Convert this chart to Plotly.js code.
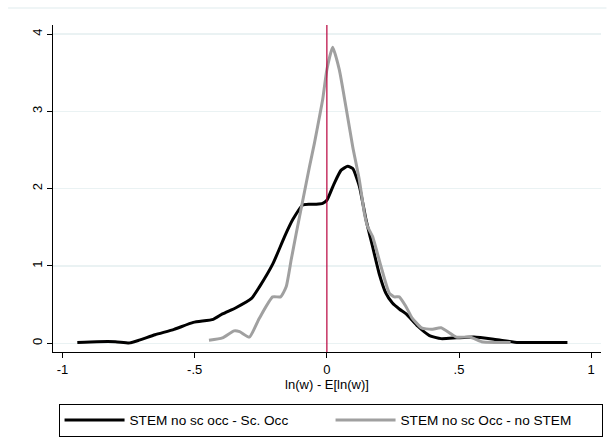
<!DOCTYPE html>
<html>
<head>
<meta charset="utf-8">
<script src="https://cdn.plot.ly/plotly-3.0.1.min.js"></script>
<style>html,body{margin:0;padding:0;background:#fff;}#chart{width:608px;height:444px;}</style>
</head>
<body>
<div id="chart"></div>
<script>
// Series 1: STEM no sc occ - Sc. Occ
const xScOcc = [-0.944,-0.87,-0.80,-0.746,-0.71,-0.65,-0.578,-0.505,-0.43,-0.395,-0.344,-0.285,-0.255,-0.204,-0.16,-0.129,-0.091,-0.066,-0.04,-0.016,0.0,0.028,0.054,0.079,0.098,0.123,0.148,0.173,0.198,0.223,0.248,0.275,0.30,0.344,0.388,0.432,0.49,0.556,0.636,0.724,0.812,0.91];
const yScOcc = [0.01,0.02,0.02,0.005,0.04,0.11,0.18,0.27,0.31,0.38,0.46,0.58,0.73,1.03,1.38,1.60,1.79,1.80,1.80,1.81,1.85,2.07,2.24,2.29,2.26,2.03,1.60,1.25,0.90,0.65,0.52,0.44,0.38,0.22,0.10,0.06,0.07,0.08,0.05,0.01,0.01,0.01];
// Series 2: STEM no sc Occ - no STEM
const xNoStem = [-0.446,-0.395,-0.351,-0.33,-0.293,-0.256,-0.205,-0.175,-0.154,-0.135,-0.116,-0.091,-0.066,-0.047,-0.028,-0.016,0.0,0.022,0.047,0.072,0.098,0.123,0.142,0.154,0.173,0.205,0.236,0.255,0.274,0.30,0.322,0.358,0.395,0.432,0.49,0.541,0.585,0.636,0.695];
const yNoStem = [0.04,0.07,0.16,0.15,0.08,0.32,0.60,0.60,0.73,1.08,1.42,1.85,2.28,2.59,2.93,3.15,3.54,3.83,3.54,3.06,2.54,2.11,1.68,1.51,1.38,0.99,0.65,0.60,0.60,0.47,0.33,0.20,0.18,0.20,0.08,0.08,0.02,0.01,0.01];
const seriesNames = ["STEM no sc occ - Sc. Occ", "STEM no sc Occ - no STEM"];
const xTickVals = [-1,-0.5,0,0.5,1];
const xTickText = ["-1","-.5","0",".5","1"];
const yTickVals = [0,1,2,3,4];
const yTickText = ["0","1","2","3","4"];
const refLineX = 0;

const font = {family: "Arial, 'Liberation Sans', sans-serif", size: 13, color: "#000"};
const legendFont = {family: "Arial, 'Liberation Sans', sans-serif", size: 13.6, color: "#000"};

const traces = [
  {x: xScOcc, y: yScOcc, name: seriesNames[0], mode: "lines", line: {color: "#000000", width: 3, shape: "spline", smoothing: 0.5}},
  {x: xNoStem, y: yNoStem, name: seriesNames[1], mode: "lines", line: {color: "#a0a0a0", width: 3, shape: "spline", smoothing: 0.5}}
];

const layout = {
  width: 608, height: 444,
  margin: {l: 53, r: 6, t: 25, b: 92},
  paper_bgcolor: "#fff", plot_bgcolor: "#fff",
  font: font,
  showlegend: true,
  legend: {
    orientation: "h", x: 1.001, xanchor: "right", y: -0.158, yanchor: "top",
    bordercolor: "#000", borderwidth: 1, bgcolor: "#fff",
    itemwidth: 60, entrywidth: 196, font: legendFont, traceorder: "normal"
  },
  xaxis: {
    range: [-1.036, 1.037], tickvals: xTickVals, ticktext: xTickText,
    showgrid: false, zeroline: false, showline: true, linecolor: "#000", linewidth: 1,
    ticks: "outside", ticklen: 5, tickcolor: "#000", tickfont: font,
    title: {text: "ln(w) - E[ln(w)]", font: font, standoff: 0}
  },
  yaxis: {
    range: [-0.113, 4.118], tickvals: yTickVals, ticktext: yTickText, tickangle: -90,
    showgrid: true, gridcolor: "#eaf2f3", gridwidth: 1.5, zeroline: false,
    showline: true, linecolor: "#000", linewidth: 1,
    ticks: "outside", ticklen: 5, tickcolor: "#000", tickfont: font
  },
  shapes: [
    {type: "line", xref: "x", yref: "paper", x0: refLineX, x1: refLineX, y0: 0, y1: 1, line: {color: "#b8003c", width: 1.2}},
    {type: "line", xref: "paper", yref: "paper", x0: -0.082, x1: 1.01, y0: 1.052, y1: 1.052, line: {color: "#eaf2f3", width: 1.5}}
  ]
};

Plotly.newPlot("chart", traces, layout, {staticPlot: true, displayModeBar: false});
</script>
</body>
</html>
